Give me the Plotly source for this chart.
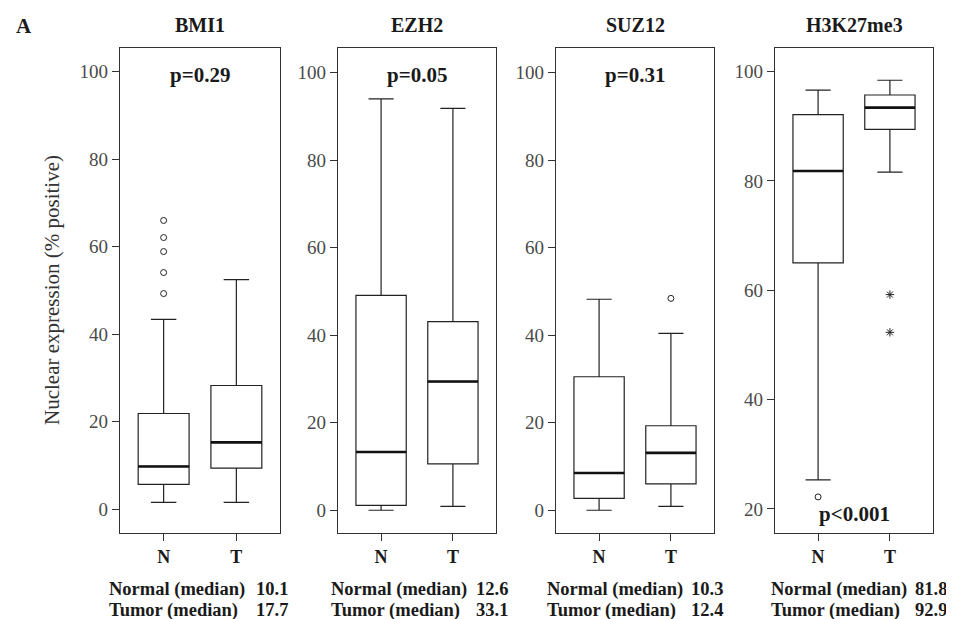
import plotly.graph_objects as go

# ---------------- data ----------------
markers = ["BMI1", "EZH2", "SUZ12", "H3K27me3"]
groups = ["N", "T"]
p_values = ["p=0.29", "p=0.05", "p=0.31", "p<0.001"]

lower_whisker = [[1.6, 1.6], [0.0, 0.9], [0.0, 0.9], [25.3, 81.6]]
q1 = [[5.7, 9.4], [1.1, 10.6], [2.7, 6.0], [65.0, 89.4]]
median = [[9.8, 15.3], [13.3, 29.4], [8.5, 13.1], [81.8, 93.4]]
q3 = [[21.9, 28.3], [49.1, 43.1], [30.5, 19.3], [92.1, 95.7]]
upper_whisker = [[43.4, 52.5], [94.0, 91.8], [48.2, 40.4], [96.6, 98.4]]

# outliers (circles) and extremes (stars): per marker, per group
outliers = [
    {"N": [66.0, 62.1, 58.9, 54.1, 49.3], "T": []},
    {"N": [], "T": []},
    {"N": [], "T": [48.4]},
    {"N": [22.2], "T": []},
]
extremes = [
    {"N": [], "T": []},
    {"N": [], "T": []},
    {"N": [], "T": []},
    {"N": [], "T": [59.2, 52.3]},
]

median_labels = ["Normal (median)", "Tumor (median)"]
reported_medians = [["10.1", "17.7"], ["12.6", "33.1"], ["10.3", "12.4"], ["81.8", "92.9"]]

y_ticks = [[0, 20, 40, 60, 80, 100]] * 3 + [[20, 40, 60, 80, 100]]
y_ranges = [[-5.4, 105.4], [-5.2, 105.6], [-5.2, 105.6], [15.6, 104.3]]

# ---------------- layout geometry ----------------
W, H = 954, 619
panel_px = [(112, 272), (330, 488), (548, 706), (767, 925)]
top_px, bottom_px = 40, 525
text_left_px = [99, 321, 537, 761]
num_left_px = [246, 466, 681, 905]

SERIF = "Liberation Serif"
INK = "#1a1a1a"
LINE = "#333333"

fig = go.Figure()
layout = dict(
    width=W, height=H,
    margin=dict(l=0, r=0, t=0, b=0),
    paper_bgcolor="white", plot_bgcolor="white",
    showlegend=False,
    font=dict(family=SERIF, color=INK),
)
annotations = []

for i, name in enumerate(markers):
    xa = "x" if i == 0 else f"x{i+1}"
    ya = "y" if i == 0 else f"y{i+1}"
    xkey = "xaxis" if i == 0 else f"xaxis{i+1}"
    ykey = "yaxis" if i == 0 else f"yaxis{i+1}"
    x0, x1 = panel_px[i]

    fig.add_trace(go.Box(
        x=groups, q1=q1[i], median=median[i], q3=q3[i],
        lowerfence=lower_whisker[i], upperfence=upper_whisker[i],
        boxpoints=False, width=0.7, whiskerwidth=0.5,
        fillcolor="white", line=dict(color="#222222", width=1.2),
        xaxis=xa, yaxis=ya, hoverinfo="skip",
    ))
    # bold median line
    fig.add_trace(go.Box(
        x=groups, q1=median[i], median=median[i], q3=median[i],
        lowerfence=median[i], upperfence=median[i],
        boxpoints=False, width=0.7, whiskerwidth=0,
        fillcolor="rgba(0,0,0,0)", line=dict(color="#111111", width=2.6),
        xaxis=xa, yaxis=ya, hoverinfo="skip",
    ))
    for g in groups:
        if outliers[i][g]:
            fig.add_trace(go.Scatter(
                x=[g] * len(outliers[i][g]), y=outliers[i][g], mode="markers",
                marker=dict(symbol="circle-open", size=6, color="#222222",
                            line=dict(width=1, color="#222222")),
                xaxis=xa, yaxis=ya, hoverinfo="skip",
            ))
        if extremes[i][g]:
            fig.add_trace(go.Scatter(
                x=[g] * len(extremes[i][g]), y=extremes[i][g], mode="markers",
                marker=dict(symbol="asterisk-open", size=7, color="#222222",
                            line=dict(width=1, color="#222222")),
                xaxis=xa, yaxis=ya, hoverinfo="skip",
            ))

    layout[xkey] = dict(
        domain=[x0 / W, x1 / W], anchor=ya, type="category",
        categoryorder="array", categoryarray=groups, range=[-0.6, 1.6],
        showline=True, mirror=True, linecolor=LINE, linewidth=1.2,
        ticks="outside", ticklen=7, tickcolor=LINE, tickwidth=1.2,
        showgrid=False, zeroline=False,
        tickfont=dict(family=SERIF, size=18, color=INK, weight="bold"),
        fixedrange=True,
    )
    layout[ykey] = dict(
        domain=[1 - bottom_px / H, 1 - top_px / H], anchor=xa,
        range=y_ranges[i], tickvals=y_ticks[i],
        showline=True, mirror=True, linecolor=LINE, linewidth=1.2,
        ticks="outside", ticklen=7, tickcolor=LINE, tickwidth=1.2,
        showgrid=False, zeroline=False,
        tickfont=dict(family=SERIF, size=19, color="#4a4a4a"),
        fixedrange=True,
    )

    # panel title
    annotations.append(dict(
        text=f"<b>{name}</b>", x=(x0 + x1) / 2 / W, y=1 - 17 / H,
        xref="paper", yref="paper", xanchor="center", yanchor="middle",
        showarrow=False, font=dict(family=SERIF, size=20, color=INK),
    ))
    # p-value
    py = 0.945 if i < 3 else 0.04
    annotations.append(dict(
        text=f"<b>{p_values[i]}</b>", x=0.5, y=py,
        xref=f"{xa} domain", yref=f"{ya} domain", xanchor="center", yanchor="middle",
        showarrow=False, font=dict(family=SERIF, size=21, color=INK),
    ))
    # median summary lines
    for k, lab in enumerate(median_labels):
        yy = 1 - (581 + 21 * k) / H
        annotations.append(dict(
            text=f"<b>{lab}</b>", x=text_left_px[i] / W, y=yy,
            xref="paper", yref="paper", xanchor="left", yanchor="middle",
            showarrow=False, font=dict(family=SERIF, size=18.5, color=INK),
        ))
        annotations.append(dict(
            text=f"<b>{reported_medians[i][k]}</b>", x=num_left_px[i] / W, y=yy,
            xref="paper", yref="paper", xanchor="left", yanchor="middle",
            showarrow=False, font=dict(family=SERIF, size=18.5, color=INK),
        ))

# panel letter
annotations.append(dict(
    text="<b>A</b>", x=16 / W, y=1 - 18 / H, xref="paper", yref="paper",
    xanchor="center", yanchor="middle", showarrow=False,
    font=dict(family=SERIF, size=21, color=INK),
))
# y-axis title
annotations.append(dict(
    text="Nuclear expression (% positive)", x=44 / W, y=1 - 282 / H,
    xref="paper", yref="paper", xanchor="center", yanchor="middle",
    textangle=-90, showarrow=False,
    font=dict(family=SERIF, size=21, color="#333333"),
))

layout["annotations"] = annotations
fig.update_layout(**layout)
fig.write_html("out.html")
